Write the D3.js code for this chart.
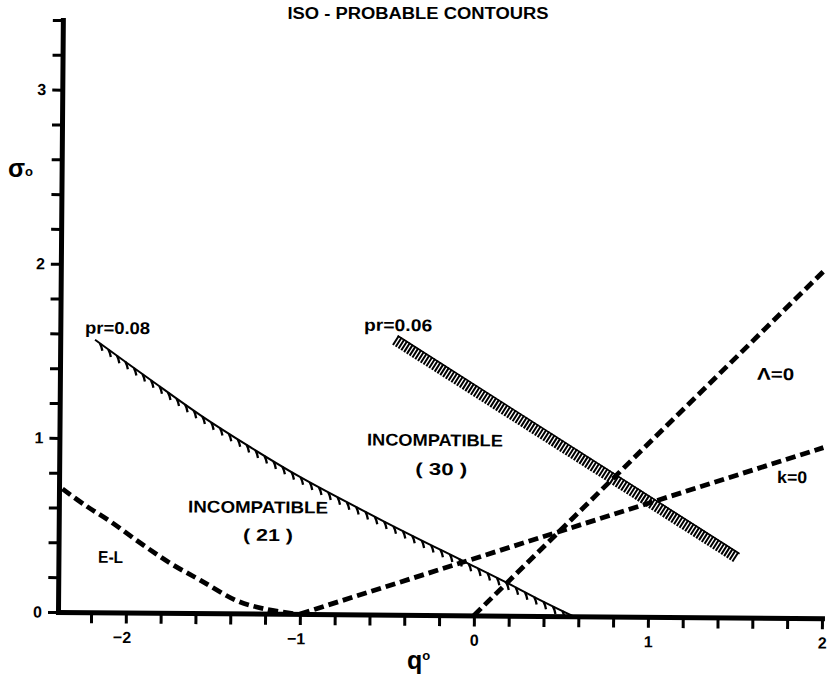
<!DOCTYPE html>
<html><head><meta charset="utf-8">
<script src="https://cdn.jsdelivr.net/npm/d3@7"></script>
<style>
body{margin:0;background:#fff}
svg{display:block;background:#fff}
text{font-family:"Liberation Sans","Arial",sans-serif;font-weight:bold;fill:#000}
.tick text{font-size:16px;font-weight:bold;font-family:"Liberation Sans","Arial",sans-serif}
</style></head>
<body><svg id="c" width="828" height="679"></svg>
<script>
// ---- axis ticks ----
const xMinorTicks = [-2.2,-2.0,-1.8,-1.6,-1.4,-1.2,-1.0,-0.8,-0.6,-0.4,-0.2,0,0.2,0.4,0.6,0.8,1.0,1.2,1.4,1.6,1.8,2.0];
const xLabelTicks = [-2,-1,0,1,2];
const xTickLabels = ["\u22122","\u22121","0","1","2"];
const yMinorTicks = [0,0.2,0.4,0.6,0.8,1.0,1.2,1.4,1.6,1.8,2.0,2.2,2.4,2.6,2.8,3.0,3.2,3.4];
const yLabelTicks = [0,1,2,3];
const yTickLabels = ["0","1","2","3"];

// ---- curves (q0, sigma0) ----
const elQ = [-2.37,-2.24,-2.09,-1.92,-1.75,-1.575,-1.36,-1.20,-1.03];
const elS = [0.707,0.615,0.52,0.40,0.287,0.19,0.072,0.027,0.0];

const pr08Q = [-2.19,-1.87,-1.584,-1.295,-1.006,-0.52,-0.054,0.19,0.38,0.57];
const pr08S = [1.565,1.338,1.139,0.957,0.787,0.535,0.307,0.188,0.091,0.0];

const pr06Q = [-0.466,1.509];
const pr06S = [1.579,0.343];

const lambdaQ = [0,2.0];
const lambdaS = [0,2.0];

const kQ = [-1,2.0];
const kS = [0,0.98];

// ---- annotations (text, q0, sigma0 of baseline centre) ----
const annText = ["pr=0.08","pr=0.06","INCOMPATIBLE","( 30 )","INCOMPATIBLE","( 21 )","E-L","\u039B=0","k=0"];
const annQ = [-2.061,-0.449,-0.232,-0.195,-1.245,-1.187,-2.09,1.722,1.822];
const annS = [1.600,1.630,0.971,0.805,0.578,0.418,0.284,1.366,0.775];
const annWidth = [65,68,136,52,140,50,25,37,30];

const svg = d3.select("#c");
const x = d3.scaleLinear().domain([-2.39, 2]).range([58, 822]);
const y = d3.scaleLinear().domain([0, 3.4]).range([612, 20]);

// title
svg.append("text").attr("x", 418).attr("y", 19).attr("text-anchor","middle")
  .attr("font-size", 16).attr("textLength", 261).attr("lengthAdjust","spacingAndGlyphs")
  .text("ISO - PROBABLE CONTOURS");

const g = svg.append("g").attr("transform","rotate(0.47,58,612)");

// axes
const xAxis = d3.axisBottom(x).tickValues(xMinorTicks).tickSize(11).tickSizeOuter(0)
  .tickFormat(d => { const i = xLabelTicks.findIndex(v => Math.abs(v-d)<1e-9); return i<0 ? "" : xTickLabels[i]; })
  .tickPadding(8);
const gx = g.append("g").attr("transform",`translate(0,${y(0)})`).call(xAxis);
const yAxis = d3.axisLeft(y).tickValues(yMinorTicks).tickSize(10).tickSizeOuter(0)
  .tickFormat(d => { const i = yLabelTicks.findIndex(v => Math.abs(v-d)<1e-9); return i<0 ? "" : yTickLabels[i]; })
  .tickPadding(6);
const gy = g.append("g").attr("transform",`translate(${x(-2.39)},0)`).call(yAxis);
[gx, gy].forEach(a => {
  a.attr("font-size", null).attr("font-family", null);
  a.select(".domain").attr("stroke","#000").attr("stroke-width",5).attr("stroke-linecap","square");
  a.selectAll(".tick line").attr("stroke","#000").attr("stroke-width",3);
  a.selectAll(".tick text").attr("fill","#000");
});
gx.selectAll(".tick text").attr("text-anchor", d => d<0 ? "end" : "middle").attr("dx", d => d<0 ? 5 : 0);

const zip = (a,b) => a.map((v,i)=>[v,b[i]]);
const smooth = d3.line().x(d => x(d[0])).y(d => y(d[1])).curve(d3.curveCatmullRom.alpha(0.5));
const straight = d3.line().x(d => x(d[0])).y(d => y(d[1]));

// dashed lines
[[elQ,elS,smooth],[lambdaQ,lambdaS,straight],[kQ,kS,straight]].forEach(([q,s,ln]) => {
  g.append("path").datum(zip(q,s))
    .attr("d", ln)
    .attr("fill","none").attr("stroke","#000").attr("stroke-width",4.8)
    .attr("stroke-dasharray","10,5");
});

// pr = 0.08 solid with hatching below
const p08 = g.append("path").datum(zip(pr08Q,pr08S))
  .attr("d", smooth)
  .attr("fill","none").attr("stroke","#000").attr("stroke-width",2);
const node = p08.node(), L = node.getTotalLength();
const hatch = [];
for (let s = 6; s < L - 6; s += 10.5) {
  const p = node.getPointAtLength(s);
  hatch.push([p.x, p.y]);
}
g.selectAll(".h08").data(hatch).join("path").attr("class","h08")
  .attr("d", d => `M${d[0]},${d[1]} l1.5,3.5 l1,4`)
  .attr("fill","none").attr("stroke","#000").attr("stroke-width",2.3);

// pr = 0.06 thick hatched band
const d06 = zip(pr06Q, pr06S);
g.append("path").datum(d06).attr("d", straight)
  .attr("fill","none").attr("stroke","#000").attr("stroke-width",11)
  .attr("stroke-dasharray","2,1.3");
const dx = x(pr06Q[1])-x(pr06Q[0]), dy = y(pr06S[1])-y(pr06S[0]);
const len = Math.hypot(dx,dy), nx = dy/len, ny = -dx/len;
g.append("path").datum(d06).attr("d", straight)
  .attr("transform",`translate(${nx*4.8},${ny*4.8})`)
  .attr("fill","none").attr("stroke","#000").attr("stroke-width",1.6);

// annotations
g.selectAll(".ann").data(annText).join("text").attr("class","ann")
  .attr("x",(d,i)=>x(annQ[i])).attr("y",(d,i)=>y(annS[i]))
  .attr("text-anchor","middle").attr("font-size",17)
  .attr("textLength",(d,i)=>annWidth[i]).attr("lengthAdjust","spacingAndGlyphs")
  .text(d=>d);

// axis titles
const st = svg.append("text").attr("x",8).attr("y",177).attr("font-size",25);
st.append("tspan").text("\u03C3");
st.append("tspan").attr("font-size",13).attr("dy",-1).text("o");
const qt = svg.append("text").attr("x",407).attr("y",669).attr("font-size",25);
qt.append("tspan").text("q");
qt.append("tspan").attr("font-size",13).attr("dy",-9).text("o");
</script>
</body></html>
